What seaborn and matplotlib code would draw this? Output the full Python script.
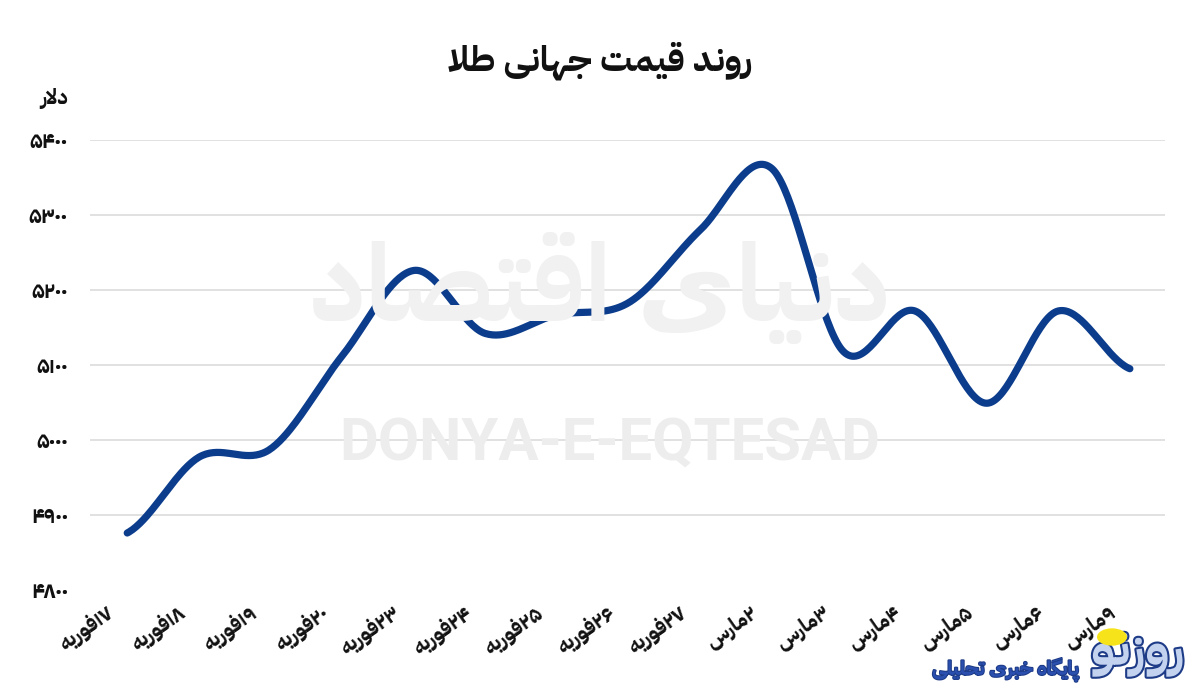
import matplotlib
matplotlib.use("Agg")
import matplotlib.pyplot as plt
import matplotlib.transforms as mtransforms
import matplotlib.patheffects as pe
from matplotlib.patches import Circle
import numpy as np
import pandas as pd
import seaborn as sns

# ---------------- data ----------------
dates = ["۱۷فوریه", "۱۸فوریه", "۱۹فوریه", "۲۰فوریه", "۲۳فوریه", "۲۴فوریه",
         "۲۵فوریه", "۲۶فوریه", "۲۷فوریه", "۲مارس", "۳مارس", "۴مارس",
         "۵مارس", "۶مارس", "۹مارس"]
prices = [4876, 4977, 4988, 5112, 5226, 5142, 5167, 5183, 5280, 5362,
          5118, 5172, 5049, 5172, 5095]
y_ticks = [4800, 4900, 5000, 5100, 5200, 5300, 5400]
title_text = "روند قیمت جهانی طلا"
unit_text = "دلار"
watermark_fa = "دنیای اقتصاد"
watermark_en = "DONYA-E-EQTESAD"
logo_name = "روزنو"
logo_sub = "پایگاه خبری تحلیلی"

# ------------- Persian shaping (presentation forms, visual order) -------------
FORMS = {
    'ا': ('\uFE8D', '\uFE8E', None, None),
    'ب': ('\uFE8F', '\uFE90', '\uFE91', '\uFE92'),
    'پ': ('\uFB56', '\uFB57', '\uFB58', '\uFB59'),
    'ت': ('\uFE95', '\uFE96', '\uFE97', '\uFE98'),
    'ج': ('\uFE9D', '\uFE9E', '\uFE9F', '\uFEA0'),
    'ح': ('\uFEA1', '\uFEA2', '\uFEA3', '\uFEA4'),
    'خ': ('\uFEA5', '\uFEA6', '\uFEA7', '\uFEA8'),
    'د': ('\uFEA9', '\uFEAA', None, None),
    'ر': ('\uFEAD', '\uFEAE', None, None),
    'ز': ('\uFEAF', '\uFEB0', None, None),
    'س': ('\uFEB1', '\uFEB2', '\uFEB3', '\uFEB4'),
    'ص': ('\uFEB9', '\uFEBA', '\uFEBB', '\uFEBC'),
    'ط': ('\uFEC1', '\uFEC2', '\uFEC3', '\uFEC4'),
    'ف': ('\uFED1', '\uFED2', '\uFED3', '\uFED4'),
    'ق': ('\uFED5', '\uFED6', '\uFED7', '\uFED8'),
    'گ': ('\uFB92', '\uFB93', '\uFB94', '\uFB95'),
    'ل': ('\uFEDD', '\uFEDE', '\uFEDF', '\uFEE0'),
    'م': ('\uFEE1', '\uFEE2', '\uFEE3', '\uFEE4'),
    'ن': ('\uFEE5', '\uFEE6', '\uFEE7', '\uFEE8'),
    'ه': ('\uFEE9', '\uFEEA', '\uFEEB', '\uFEEC'),
    'و': ('\uFEED', '\uFEEE', None, None),
    'ی': ('\uFBFC', '\uFBFD', '\uFBFE', '\uFBFF'),
}


def shape(text):
    out = []
    chars = list(text)
    n = len(chars)

    def joins_left(c):
        return c in FORMS and FORMS[c][2] is not None

    i = 0
    while i < n:
        c = chars[i]
        if c not in FORMS:
            out.append(c)
            i += 1
            continue
        prev = chars[i - 1] if i > 0 else None
        pj = prev is not None and joins_left(prev)
        if c == 'ل' and i + 1 < n and chars[i + 1] == 'ا':
            out.append('\uFEFC' if pj else '\uFEFB')
            i += 2
            continue
        nxt = chars[i + 1] if i + 1 < n else None
        nj = nxt is not None and nxt in FORMS and joins_left(c)
        iso, fin, ini, med = FORMS[c]
        if pj and nj:
            out.append(med)
        elif pj:
            out.append(fin)
        elif nj:
            out.append(ini)
        else:
            out.append(iso)
        i += 1
    res, run = [], []
    for ch in reversed(out):
        if ch.isdigit():
            run.insert(0, ch)
        else:
            if run:
                res.extend(run)
                run = []
            res.append(ch)
    res.extend(run)
    return ''.join(res)


def fa_digits(v):
    return str(v).translate(str.maketrans("0123456789", "۰۱۲۳۴۵۶۷۸۹"))


# ------------- smooth rendering of the series (Catmull-Rom) -------------
def smooth(xs, ys, per=40):
    xs = np.asarray(xs, float)
    ys = np.asarray(ys, float)
    px = np.concatenate([[2 * xs[0] - xs[1]], xs, [2 * xs[-1] - xs[-2]]])
    py = np.concatenate([[ys[0]], ys, [ys[-1]]])
    ox, oy = [], []
    t = np.linspace(0, 1, per, endpoint=False)
    for k in range(1, len(px) - 2):
        for p, o in ((px, ox), (py, oy)):
            p0, p1, p2, p3 = p[k - 1], p[k], p[k + 1], p[k + 2]
            o.extend(0.5 * ((2 * p1) + (-p0 + p2) * t
                            + (2 * p0 - 5 * p1 + 4 * p2 - p3) * t ** 2
                            + (-p0 + 3 * p1 - 3 * p2 + p3) * t ** 3))
    ox.append(xs[-1])
    oy.append(ys[-1])
    return np.array(ox), np.array(oy)


# ---------------- figure ----------------
sns.set_theme(style="white")
FONT = ['IBM Plex Sans Arabic', 'DejaVu Sans']
plt.rcParams['font.family'] = FONT
plt.rcParams['font.weight'] = 'bold'

fig = plt.figure(figsize=(12, 6.95), dpi=100)
fig.patch.set_facecolor("white")
ax = fig.add_axes([0.075, 0.1511, 0.8958, 0.6475])
ax.set_facecolor("none")

# watermarks
fig.text(0.5, 0.585, shape(watermark_fa), fontsize=78, color="#f1f1f1",
         ha="center", va="center", family=FONT, weight="bold", zorder=0)
fig.text(0.508, 0.362, watermark_en, fontsize=43, color="#ededed",
         ha="center", va="center", family=["Roboto", "DejaVu Sans"],
         weight="bold", zorder=0)

x_idx = np.arange(len(prices))
sx, sy = smooth(x_idx, prices)
df = pd.DataFrame({"x": sx, "price": sy})
sns.lineplot(data=df, x="x", y="price", ax=ax, color="#0c3d8d", linewidth=5.2,
             sort=False, estimator=None, zorder=3,
             solid_capstyle="round", solid_joinstyle="round")

ax.set_xlim(-0.52, len(prices) - 1 + 0.49)
ax.set_ylim(y_ticks[0], y_ticks[-1])
ax.set_yticks(y_ticks)
ax.set_yticklabels([fa_digits(v) for v in y_ticks], fontsize=15.5,
                   color="#111111", fontweight="bold")
ax.set_xticks(x_idx)
ax.set_xticklabels([])

# date labels, rotated, anchored below-left of each tick
lab_tr = ax.get_xaxis_transform() + mtransforms.ScaledTranslation(
    -0.16, -0.21, fig.dpi_scale_trans)
for i, d in zip(x_idx, dates):
    ax.text(i, 0, shape(d), transform=lab_tr, fontsize=15, rotation=35,
            ha="right", va="center", rotation_mode="anchor",
            color="#111111", fontweight="bold", family=FONT, clip_on=False)

ax.set_xlabel("")
ax.set_ylabel("")
ax.tick_params(axis="both", length=0)
ax.tick_params(axis="y", pad=16)
ax.grid(axis="y", color="#dedede", linewidth=1.3)
ax.grid(axis="x", visible=False)
ax.get_ygridlines()[0].set_visible(False)
for s in ax.spines.values():
    s.set_visible(False)

# title and unit
fig.text(0.5, 0.912, shape(title_text), fontsize=25.5, ha="center", va="center",
         color="#111111", weight="bold", family=FONT)
fig.text(0.057, 0.858, shape(unit_text), fontsize=15, ha="right", va="center",
         color="#111111", weight="bold", family=FONT)

# logo
fig.patches.append(Circle((1112 / 1200, 1 - 637 / 695), 0.0125,
                          transform=fig.transFigure, facecolor="#f7e31a",
                          edgecolor="none", zorder=6))
fig.text(0.948, 0.06, shape(logo_name), fontsize=36, ha="center", va="center",
         color="#c3d3ef", weight="bold", family=FONT, zorder=5,
         path_effects=[pe.withStroke(linewidth=3, foreground="#1d3b87")])
fig.text(0.838, 0.036, shape(logo_sub), fontsize=14, ha="center", va="center",
         color="#2a4fae", weight="bold", family=FONT, zorder=5,
         path_effects=[pe.withStroke(linewidth=1.5, foreground="#1d3b87")])

fig.savefig("out.png", dpi=100, facecolor="white")
